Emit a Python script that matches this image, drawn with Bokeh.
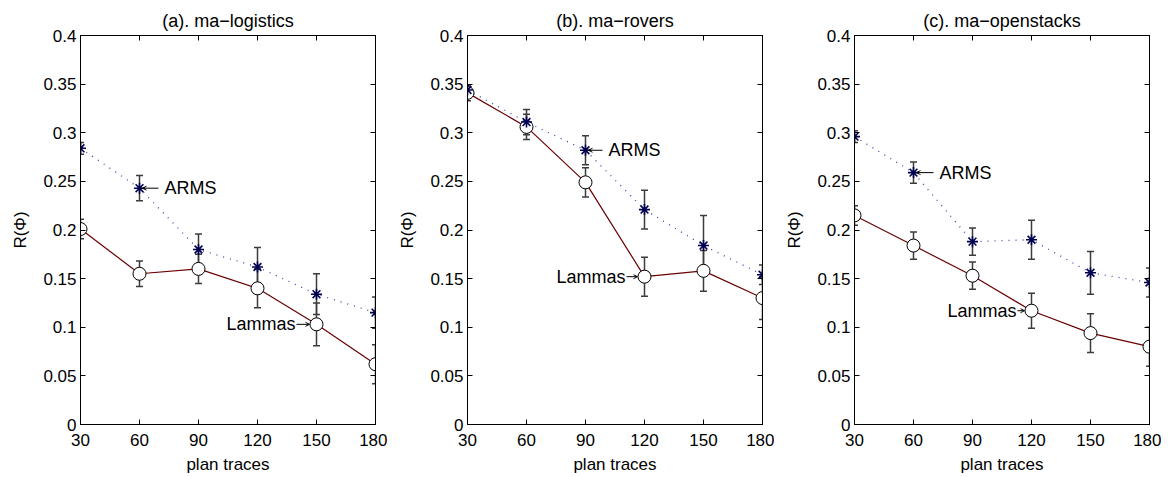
from bokeh.plotting import figure
from bokeh.layouts import row
from bokeh.models import (Range1d, FixedTicker, LinearAxis, CustomJSTickFormatter,
                          Whisker, TeeHead, ColumnDataSource, Arrow, OpenHead)
from bokeh.core.properties import value
from bokeh.embed import file_html
from bokeh.resources import INLINE

# ---------------- data ----------------
plan_traces = [30, 60, 90, 120, 150, 180]
y_ticks = [0, 0.05, 0.1, 0.15, 0.2, 0.25, 0.3, 0.35, 0.4]

titles = ["(a). ma\u2212logistics", "(b). ma\u2212rovers", "(c). ma\u2212openstacks"]

a_arms = [0.284, 0.243, 0.180, 0.162, 0.134, 0.115]
a_arms_err = [0.006, 0.013, 0.016, 0.020, 0.021, 0.016]
a_lammas = [0.201, 0.155, 0.160, 0.140, 0.103, 0.062]
a_lammas_err = [0.010, 0.013, 0.015, 0.020, 0.022, 0.020]

b_arms = [0.344, 0.311, 0.282, 0.221, 0.184, 0.154]
b_arms_err = [0.005, 0.013, 0.015, 0.020, 0.031, 0.010]
b_lammas = [0.341, 0.306, 0.249, 0.152, 0.158, 0.130]
b_lammas_err = [0.008, 0.013, 0.015, 0.020, 0.021, 0.022]

c_arms = [0.296, 0.259, 0.188, 0.190, 0.156, 0.146]
c_arms_err = [0.006, 0.011, 0.014, 0.020, 0.022, 0.015]
c_lammas = [0.215, 0.184, 0.153, 0.117, 0.094, 0.080]
c_lammas_err = [0.010, 0.014, 0.014, 0.018, 0.020, 0.020]

# annotation anchor indices (which point each label points to)
arms_label_idx = [1, 2, 1]
lammas_label_idx = [4, 3, 3]

# ---------------- style ----------------
FONT = "Liberation Sans"
LAMMAS_COLOR = "#6b0000"
ARMS_LINE_COLOR = "#4040b0"
ARMS_MARKER_COLOR = "#000050"
ERR_COLOR = "#3c3c3c"
FRAME_W, FRAME_H = 295, 389
PX = 150.0 / FRAME_W  # data units per pixel in x

# per-panel annotation geometry (pixels): text offset, arrow start, arrow end
arms_geom = [(25, 19, 3), (23, 17, 3), (26, 20, 3)]
lammas_geom = [(-21, -20, -7), (-19, -18, -7), (-15, -14, -7)]

panels = [
    (a_arms, a_arms_err, a_lammas, a_lammas_err),
    (b_arms, b_arms_err, b_lammas, b_lammas_err),
    (c_arms, c_arms_err, c_lammas, c_lammas_err),
]

tick_fmt = CustomJSTickFormatter(code="return String(Math.round(tick*100)/100);")
blank_fmt = CustomJSTickFormatter(code="return '';")


def style_axis(ax, show_labels):
    ax.axis_line_color = "black"
    ax.axis_line_width = 1
    ax.major_tick_in = 5
    ax.major_tick_out = 0
    ax.minor_tick_line_color = None
    ax.major_tick_line_color = "black"
    ax.major_label_text_font = FONT
    ax.major_label_text_font_size = "17px"
    ax.major_label_text_color = "black"
    ax.axis_label_text_font = FONT
    ax.axis_label_text_font_size = "17px"
    ax.axis_label_text_font_style = "normal"
    ax.axis_label_text_color = "black"
    if not show_labels:
        ax.formatter = blank_fmt
        ax.major_label_standoff = 0


figs = []
for i, (arms, arms_err, lam, lam_err) in enumerate(panels):
    p = figure(frame_width=FRAME_W, frame_height=FRAME_H,
               x_range=Range1d(30, 180), y_range=Range1d(0, 0.4),
               output_backend="svg", toolbar_location=None,
               min_border_left=80, min_border_right=12,
               min_border_top=35, min_border_bottom=4,
               background_fill_color="white", border_fill_color="white")
    p.outline_line_color = "black"
    p.xgrid.visible = False
    p.ygrid.visible = False

    p.title.text = titles[i]
    p.title.align = "center"
    p.title.text_font = FONT
    p.title.text_font_size = "18px"
    p.title.text_font_style = "normal"
    p.title.text_color = "black"
    p.title.standoff = 9

    p.xaxis.ticker = FixedTicker(ticks=plan_traces)
    p.yaxis.ticker = FixedTicker(ticks=y_ticks)
    p.yaxis.formatter = tick_fmt
    p.xaxis.axis_label = "plan traces"
    p.yaxis.axis_label = "R(\u03a6)"
    for ax in p.xaxis + p.yaxis:
        style_axis(ax, True)
    p.xaxis.major_label_standoff = 9
    p.yaxis.major_label_standoff = 4
    p.xaxis.axis_label_standoff = 6
    p.yaxis.axis_label_standoff = 10

    ax_r = LinearAxis(ticker=FixedTicker(ticks=y_ticks))
    style_axis(ax_r, False)
    p.add_layout(ax_r, "right")
    ax_t = LinearAxis(ticker=FixedTicker(ticks=plan_traces))
    style_axis(ax_t, False)
    p.add_layout(ax_t, "above")

    # lines
    p.line(plan_traces, lam, line_color=LAMMAS_COLOR, line_width=1.2)
    p.line(plan_traces, arms, line_color=ARMS_LINE_COLOR, line_width=1.3,
           line_dash="1 6")

    # error bars
    for vals, errs in ((arms, arms_err), (lam, lam_err)):
        src = ColumnDataSource(dict(
            x=plan_traces,
            upper=[v + e for v, e in zip(vals, errs)],
            lower=[v - e for v, e in zip(vals, errs)]))
        w = Whisker(base="x", upper="upper", lower="lower", source=src,
                    line_color=ERR_COLOR, line_width=1.5,
                    upper_head=TeeHead(size=7, line_color=ERR_COLOR, line_width=1.5),
                    lower_head=TeeHead(size=7, line_color=ERR_COLOR, line_width=1.5))
        p.add_layout(w)

    # markers
    p.scatter(plan_traces, lam, marker="circle", size=13, fill_color="white",
              line_color="black", line_width=1)
    p.scatter(plan_traces, arms, marker="asterisk", size=11,
              line_color=ARMS_MARKER_COLOR, line_width=1.6)

    # annotations
    ai = arms_label_idx[i]
    toff, s0, s1 = arms_geom[i]
    p.text([plan_traces[ai]], [arms[ai]], text=["ARMS"], x_offset=toff,
           text_align="left", text_baseline="middle",
           text_font=value(FONT), text_font_size="18px", text_color="black")
    p.add_layout(Arrow(x_start=plan_traces[ai] + s0 * PX, y_start=arms[ai],
                       x_end=plan_traces[ai] + s1 * PX, y_end=arms[ai],
                       line_color="black", line_width=1,
                       end=OpenHead(size=4, line_color="black", line_width=1)))

    li = lammas_label_idx[i]
    toff, s0, s1 = lammas_geom[i]
    p.text([plan_traces[li]], [lam[li]], text=["Lammas"], x_offset=toff,
           text_align="right", text_baseline="middle",
           text_font=value(FONT), text_font_size="18px", text_color="black")
    p.add_layout(Arrow(x_start=plan_traces[li] + s0 * PX, y_start=lam[li],
                       x_end=plan_traces[li] + s1 * PX, y_end=lam[li],
                       line_color="black", line_width=1,
                       end=OpenHead(size=4, line_color="black", line_width=1)))

    figs.append(p)

layout = row(*figs, spacing=0)
open("out.html", "w").write(file_html(layout, INLINE))
